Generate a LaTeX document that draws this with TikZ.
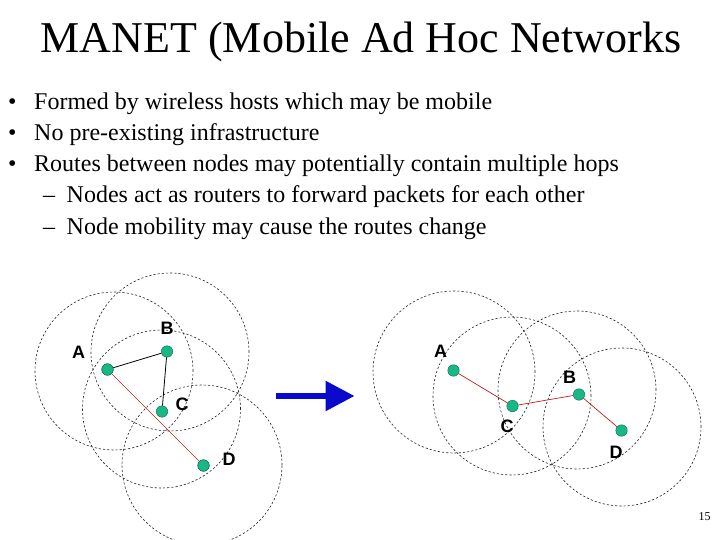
\documentclass[tikz,border=0pt]{standalone}
\usepackage{fontspec}
\setmainfont{Liberation Serif}
\newfontfamily\lblfont{Liberation Sans}
\usetikzlibrary{arrows.meta}
\definecolor{nodegreen}{RGB}{24,184,134}
\definecolor{nodeedge}{RGB}{10,110,75}
\definecolor{linkred}{RGB}{190,30,30}
\definecolor{arrowblue}{RGB}{10,10,205}
\begin{document}
\begin{tikzpicture}[x=1pt,y=-1pt,
  ring/.style={draw=black!85,dashed,dash pattern=on 2.2pt off 2pt,line width=0.6pt},
  dot/.style={circle,fill=nodegreen,draw=nodeedge,line width=0.4pt,minimum size=11.5pt,inner sep=0pt},
  lbl/.style={font=\lblfont\bfseries\fontsize{18}{20}\selectfont,inner sep=0pt},
  bodytext/.style={anchor=base west,inner sep=0pt,font=\fontsize{24}{28}\selectfont},
  blacklink/.style={draw=black,line width=0.8pt},
  redlink/.style={draw=linkred,line width=0.7pt}]
\useasboundingbox (0,0) rectangle (720,540);

% title
\node[anchor=base,inner sep=0pt,font=\fontsize{44}{50}\selectfont] (title) at (361,52.5) {MANET (Mobile Ad Hoc Networks};

% bullets
\node[bodytext] (b1) at (8,109.5) {•};
\node[bodytext] (t1) at (34,109.5) {Formed by wireless hosts which may be mobile};
\node[bodytext] (b2) at (8,140.5) {•};
\node[bodytext] (t2) at (34,140.5) {No pre-existing infrastructure};
\node[bodytext] (b3) at (8,171.5) {•};
\node[bodytext] (t3) at (34,171.5) {Routes between nodes may potentially contain multiple hops};
\node[bodytext] (d4) at (43,203) {–};
\node[bodytext] (t4) at (66.5,203) {Nodes act as routers to forward packets for each other};
\node[bodytext] (d5) at (43,234) {–};
\node[bodytext] (t5) at (66.5,234) {Node mobility may cause the routes change};

% left rings
\draw[ring] (114,371) circle[radius=79pt];
\draw[ring] (170,352) circle[radius=79pt];
\draw[ring] (161.5,409) circle[radius=79pt];
\draw[ring] (202,465) circle[radius=80pt];

% right rings
\draw[ring] (454,372) circle[radius=81pt];
\draw[ring] (512,396) circle[radius=79pt];
\draw[ring] (577,390) circle[radius=79pt];
\draw[ring] (622,427) circle[radius=79pt];

% left nodes
\node[dot] (lA) at (107.5,369.5) {};
\node[dot] (lB) at (167,351.5) {};
\node[dot] (lD) at (203.5,465.5) {};
\draw[redlink] (lA.center) -- (lD.center);
\draw[blacklink] (lA) -- (lB);
\node[dot] (lC) at (162,411.5) {};
\draw[blacklink] (lB) -- (lC);
\node[dot] at (107.5,369.5) {};
\node[dot] at (203.5,465.5) {};

\node[lbl] (lAl) at (78.5,352) {A};
\node[lbl] (lBl) at (167,328) {B};
\node[lbl] (lCl) at (182,404.5) {C};
\node[lbl] (lDl) at (229,459.5) {D};

% arrow
\coordinate (arS) at (276,396);
\coordinate (arE) at (354.5,396);
\draw[arrowblue,line width=5.6pt,-{Triangle[length=29pt,width=29pt]}] (arS) -- (arE);

% right nodes
\node[dot] (rA) at (453.5,370.5) {};
\node[dot] (rC) at (512.5,406) {};
\node[dot] (rB) at (579,394.5) {};
\node[dot] (rD) at (621.5,430.5) {};
\draw[redlink] (rA) -- (rC);
\draw[redlink] (rC) -- (rB);
\draw[redlink] (rB) -- (rD);

\node[lbl] (rAl) at (440.5,351.5) {A};
\node[lbl] (rBl) at (569.5,377.5) {B};
\node[lbl] (rCl) at (507,426) {C};
\node[lbl] (rDl) at (616,452.5) {D};

% page number
\node[inner sep=0pt,font=\fontsize{12}{14}\selectfont] (pg) at (704.5,517) {15};
\end{tikzpicture}
\end{document}
